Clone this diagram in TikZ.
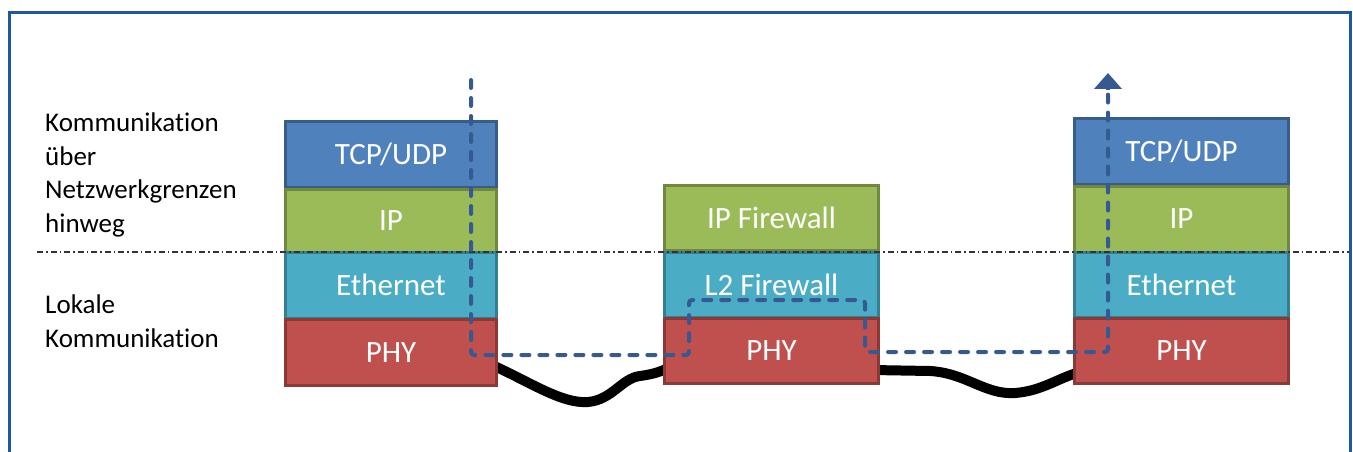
\documentclass[tikz,border=0pt]{standalone}
\usepackage{fontspec}
\setmainfont{Carlito}[Ligatures=NoCommon]
\usetikzlibrary{arrows.meta}
\definecolor{frameblue}{RGB}{31,88,160}
\definecolor{tcpf}{HTML}{4F81BD}\definecolor{tcpd}{HTML}{385D8A}
\definecolor{ipf}{HTML}{9BBB59}\definecolor{ipd}{HTML}{71893F}
\definecolor{ethf}{HTML}{4BACC6}\definecolor{ethd}{HTML}{357D91}
\definecolor{phyf}{HTML}{C0504D}\definecolor{phyd}{HTML}{8C3836}
\definecolor{pathblue}{RGB}{52,90,145}
\tikzset{
  layer/.style={rectangle, line width=3pt, inner sep=0pt, text=white,
    font=\fontsize{31}{37}\selectfont},
  tcplayer/.style={layer, fill=tcpf, draw=tcpd},
  iplayer/.style={layer, fill=ipf, draw=ipd},
  ethlayer/.style={layer, fill=ethf, draw=ethd},
  phylayer/.style={layer, fill=phyf, draw=phyd},
  sidelabel/.style={align=left, inner sep=0pt, anchor=base west,
    font=\fontsize{27}{33.5}\selectfont},
  cable/.style={line width=10pt, black, line cap=round},
  flow/.style={line width=4pt, pathblue, dash pattern=on 8pt off 10pt, line cap=round, rounded corners=3pt},
  divider/.style={line width=1.2pt, black!80, dash pattern=on 6pt off 3pt on 1.5pt off 3pt}
}
\begin{document}
\begin{tikzpicture}[x=1pt,y=-1pt]
\useasboundingbox (0,0) rectangle (1353,452);
% frame
\draw[frameblue, line width=3pt] (9.5,460) -- (9.5,12.5) -- (1350.5,12.5) -- (1350.5,460);

% cables (behind boxes)
\coordinate (ca) at (492,365);
\coordinate (cb) at (670,367);
\coordinate (cc) at (872,370);
\coordinate (cd) at (1080,372);
\draw[cable] (ca) .. controls (530,382) and (562,404) .. (588,402)
  .. controls (612,400) and (622,378) .. (640,376)
  .. controls (655,374) and (662,371) .. (cb);
\draw[cable] (cc) -- (930,371) .. controls (966,373) and (985,395) .. (1015,393)
  .. controls (1042,391) and (1058,378) .. (cd);

% left stack
\node[tcplayer, minimum width=211pt, minimum height=66pt] (lt) at (391,154.5) {TCP/UDP};
\node[iplayer,  minimum width=211pt, minimum height=63pt] (li) at (391,220.5) {IP};
\node[ethlayer, minimum width=211pt, minimum height=66pt] (le) at (391,285) {Ethernet};
\node[phylayer, minimum width=211pt, minimum height=66pt] (lp) at (391,352.5) {PHY};

% middle stack
\node[iplayer,  minimum width=214pt, minimum height=65pt] (mi) at (771.5,218) {IP Firewall};
\node[ethlayer, minimum width=214pt, minimum height=65pt] (ml) at (771.5,284.5) {L2 Firewall};
\node[phylayer, minimum width=214pt, minimum height=65pt] (mp) at (771.5,351) {PHY};

% right stack
\node[tcplayer, minimum width=214pt, minimum height=66pt] (rt) at (1181.5,151.5) {TCP/UDP};
\node[iplayer,  minimum width=214pt, minimum height=66pt] (ri) at (1181.5,219) {IP};
\node[ethlayer, minimum width=214pt, minimum height=65pt] (re) at (1181.5,284.5) {Ethernet};
\node[phylayer, minimum width=214pt, minimum height=65pt] (rp) at (1181.5,351) {PHY};

% divider
\coordinate (dl) at (37,252);
\coordinate (dr) at (1349,252);
\draw[divider] (dl) -- (dr);

% side labels (base = baseline of last line)
\node[sidelabel] (upper) at (45,232) {Kommunikation\\über\\Netzwerkgrenzen\\hinweg};
\node[sidelabel] (lower) at (45,347) {Lokale\\Kommunikation};

% data flow
\coordinate (s) at (471,80);
\coordinate (p1) at (471,355);
\coordinate (p2) at (689,355);
\coordinate (p3) at (689,300);
\coordinate (p4) at (865,300);
\coordinate (p5) at (865,352);
\coordinate (p6) at (1108,352);
\coordinate (e) at (1108,90);
\coordinate (tip) at (1108,73);
\draw[flow] (s) -- (p1) -- (p2) -- (p3) -- (p4) -- (p5) -- (p6) -- (e);
\draw[pathblue, line width=4pt, -{Triangle[width=27pt,length=16pt]}] (e) -- (tip);
\end{tikzpicture}
\end{document}
